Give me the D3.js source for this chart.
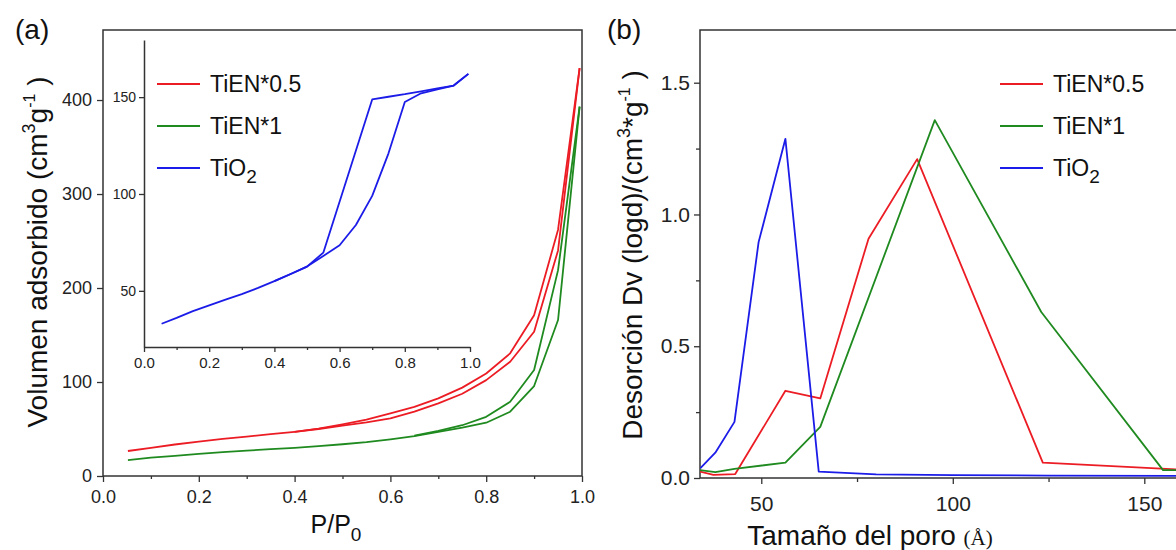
<!DOCTYPE html>
<html><head><meta charset="utf-8">
<script src="https://cdn.jsdelivr.net/npm/d3@7"></script>
<style>
body{margin:0;background:#fff;}
svg{display:block;font-family:"Liberation Sans",Arial,sans-serif;}
</style></head><body>
<svg id="chart" width="1176" height="550"></svg>
<script>
// ---------- Panel (a): N2 isotherms ----------
const aXTicks = [0.0, 0.2, 0.4, 0.6, 0.8, 1.0];
const aXMinor = [0.1, 0.3, 0.5, 0.7, 0.9];
const aYTicks = [0, 100, 200, 300, 400];

const ppAds = [0.052,0.1,0.15,0.2,0.25,0.3,0.35,0.4,0.45,0.5,0.55,0.6,0.65,0.7,0.75,0.8,0.85,0.9,0.95,0.995];
const tienHalfAds = [26.6,30,33.5,36.5,39.5,42,44.5,47,50,53.5,57,61.4,68.5,77.3,87.5,102,121.6,153.5,240,434];
const ppDesHalf = [0.995,0.95,0.9,0.85,0.8,0.75,0.7,0.65,0.6,0.55,0.5,0.45,0.4];
const tienHalfDes = [434,262,171,130.5,109,94,82.6,73.5,66.7,60,55,50.5,47];

const tienOneAds = [17,19.5,21.5,23.5,25.3,27,28.5,30,31.8,33.8,36,39,42.5,47,51.5,56.7,68.4,95.7,166,393];
const ppDesOne = [0.995,0.95,0.9,0.85,0.8,0.75,0.7,0.65];
const tienOneDes = [393,219,112.8,79,63,54,48,43];

// Inset: TiO2 isotherm
const insetXTicks = [0.0, 0.2, 0.4, 0.6, 0.8, 1.0];
const insetXMinor = [0.1, 0.3, 0.5, 0.7, 0.9];
const insetYTicks = [50, 100, 150];
const ppInsetAds = [0.054,0.1,0.15,0.2,0.25,0.3,0.35,0.4,0.45,0.5,0.55,0.6,0.65,0.7,0.75,0.8,0.85,0.9,0.95,0.995];
const tio2Ads = [33,36,39.5,42.5,45.5,48.3,51.5,55,58.7,62.5,68,73.5,84,99,121,147.5,152,154,156,162];
const ppInsetDes = [0.995,0.95,0.9,0.85,0.8,0.75,0.7,0.55,0.5,0.45,0.4];
const tio2Des = [162,156,154.5,153,151.5,150.2,148.8,69.7,62.5,58.7,55];

// ---------- Panel (b): pore size distribution ----------
const bXTicks = [50, 100, 150];
const bXMinor = [75, 125];
const bYTicks = [0.0, 0.5, 1.0, 1.5];
const bYMinor = [0.25, 0.75, 1.25];

const poreTiO2 = [34.1,38,43,49.3,56.3,65,80,100,125,160,175];
const dvTiO2 = [0.037,0.096,0.213,0.895,1.287,0.024,0.014,0.011,0.009,0.008,0.008];
const poreHalf = [34,37.5,43.2,56.3,65.4,78,90.7,123.5,158.3,175];
const dvHalf = [0.024,0.012,0.015,0.331,0.302,0.908,1.21,0.058,0.033,0.03];
const poreOne = [34,38,43,56.3,65.4,95.3,123.1,154.9,175];
const dvOne = [0.03,0.022,0.035,0.058,0.194,1.358,0.63,0.03,0.03];

const seriesNames = ["TiEN*0.5", "TiEN*1", "TiO"];
const colors = ["#ec1c24", "#1f8a1f", "#1c1ce8"];

// ---------------------------------------------------------
const svg = d3.select("#chart");
const axisColor = "#333";
const LW = 1.8;

function styleAxis(g, fs) {
  g.selectAll("path.domain").attr("stroke", axisColor).attr("stroke-width", 1.5);
  g.selectAll(".tick line").attr("stroke", axisColor).attr("stroke-width", 1.3);
  g.selectAll(".tick text").attr("fill", "#222").style("font-size", fs + "px")
    .style("font-family", '"Liberation Sans",Arial,sans-serif');
}

// ===== Panel (a) =====
const xA = d3.scaleLinear().domain([0, 1]).range([103, 582]);
const yA = d3.scaleLinear().domain([0, 474.5]).range([476, 30]);

const gA = svg.append("g");
gA.append("g").attr("transform", "translate(0,476)")
  .call(d3.axisBottom(xA).tickValues(aXTicks).tickSize(6).tickPadding(8).tickFormat(d3.format(".1f")).tickSizeOuter(0))
  .call(g => { g.select(".domain").remove(); styleAxis(g, 18); });
gA.append("g").attr("transform", "translate(0,476)")
  .call(d3.axisBottom(xA).tickValues(aXMinor).tickSize(3).tickFormat(""))
  .call(g => { g.select(".domain").remove(); styleAxis(g, 18); });
gA.append("g").attr("transform", "translate(103,0)")
  .call(d3.axisLeft(yA).tickValues(aYTicks).tickSize(6).tickPadding(5).tickSizeOuter(0))
  .call(g => { g.select(".domain").remove(); styleAxis(g, 18); });
gA.append("rect").attr("x", xA(0)).attr("y", yA(474.5)).attr("width", xA(1) - xA(0)).attr("height", yA(0) - yA(474.5))
  .attr("fill", "none").attr("stroke", axisColor).attr("stroke-width", 1.5);

const lineA = d3.line().x(d => xA(d[0])).y(d => yA(d[1]));
[[ppAds, tienHalfAds, 0], [ppDesHalf, tienHalfDes, 0], [ppAds, tienOneAds, 1], [ppDesOne, tienOneDes, 1]]
  .forEach(([xs, ys, c]) => {
    gA.append("path").datum(d3.zip(xs, ys)).attr("d", lineA)
      .attr("fill", "none").attr("stroke", colors[c]).attr("stroke-width", LW).attr("stroke-linejoin", "round");
  });

// Inset
const xI = d3.scaleLinear().domain([0, 1]).range([144, 470]);
const yI = d3.scaleLinear().domain([21, 179.5]).range([347, 40]);
gA.append("g").attr("transform", "translate(0,347)")
  .call(d3.axisBottom(xI).tickValues(insetXTicks).tickSize(5).tickPadding(5).tickFormat(d3.format(".1f")).tickSizeOuter(0))
  .call(g => styleAxis(g, 15));
gA.append("g").attr("transform", "translate(0,347)")
  .call(d3.axisBottom(xI).tickValues(insetXMinor).tickSize(3).tickFormat(""))
  .call(g => { g.select(".domain").remove(); styleAxis(g, 15); });
gA.append("g").attr("transform", "translate(144,0)")
  .call(d3.axisLeft(yI).tickValues(insetYTicks).tickSize(5).tickPadding(3).tickSizeOuter(0))
  .call(g => styleAxis(g, 14));
const lineI = d3.line().x(d => xI(d[0])).y(d => yI(d[1]));
[[ppInsetAds, tio2Ads], [ppInsetDes, tio2Des]].forEach(([xs, ys]) => {
  gA.append("path").datum(d3.zip(xs, ys)).attr("d", lineI)
    .attr("fill", "none").attr("stroke", colors[2]).attr("stroke-width", LW).attr("stroke-linejoin", "round");
});

function legend(g, x0, y0) {
  seriesNames.forEach((name, i) => {
    const y = y0 + i * 42;
    g.append("line").attr("x1", x0).attr("x2", x0 + 43).attr("y1", y).attr("y2", y)
      .attr("stroke", colors[i]).attr("stroke-width", LW);
    const t = g.append("text").attr("x", x0 + 53).attr("y", y + 8).style("font-size", "23px").attr("fill", "#111");
    t.append("tspan").text(name);
    if (i === 2) t.append("tspan").attr("dy", 7).style("font-size", "19px").text("2");
  });
}
legend(gA, 157, 84);

// axis titles (a)
svg.append("text").attr("x", 15).attr("y", 39).style("font-size", "28px").attr("fill", "#111").text("(a)");
const yTitleA = svg.append("text").attr("transform", "translate(47,252) rotate(-90)")
  .attr("text-anchor", "middle").style("font-size", "28px").attr("fill", "#111");
yTitleA.append("tspan").text("Volumen adsorbido (cm");
yTitleA.append("tspan").attr("dy", -12).style("font-size", "18px").text("3");
yTitleA.append("tspan").attr("dy", 12).text("g");
yTitleA.append("tspan").attr("dy", -12).style("font-size", "16px").text("-1");
yTitleA.append("tspan").attr("dy", 12).text(" )");
const xTitleA = svg.append("text").attr("x", 336).attr("y", 533).attr("text-anchor", "middle")
  .style("font-size", "25px").attr("fill", "#111");
xTitleA.append("tspan").text("P/P");
xTitleA.append("tspan").attr("dy", 8).style("font-size", "19px").text("0");

// ===== Panel (b) =====
const xB = d3.scaleLinear().domain([34, 170]).range([700, 1220.9]);
const yB = d3.scaleLinear().domain([0, 1.7]).range([478, 30]);
const gB = svg.append("g");
svg.append("clipPath").attr("id", "clipB").append("rect")
  .attr("x", 700).attr("y", 30).attr("width", 521).attr("height", 448);

gB.append("g").attr("transform", "translate(0,478)")
  .call(d3.axisBottom(xB).tickValues(bXTicks).tickSize(6).tickPadding(12).tickSizeOuter(0))
  .call(g => { g.select(".domain").remove(); styleAxis(g, 21); });
gB.append("g").attr("transform", "translate(0,478)")
  .call(d3.axisBottom(xB).tickValues(bXMinor).tickSize(4).tickFormat(""))
  .call(g => { g.select(".domain").remove(); styleAxis(g, 21); });
gB.append("g").attr("transform", "translate(700,0)")
  .call(d3.axisLeft(yB).tickValues(bYTicks).tickSize(6).tickPadding(4).tickFormat(d3.format(".1f")).tickSizeOuter(0))
  .call(g => { g.select(".domain").remove(); styleAxis(g, 21); });
gB.append("g").attr("transform", "translate(700,0)")
  .call(d3.axisLeft(yB).tickValues(bYMinor).tickSize(4).tickFormat(""))
  .call(g => { g.select(".domain").remove(); styleAxis(g, 21); });
gB.append("rect").attr("x", 700).attr("y", 30).attr("width", 521).attr("height", 448)
  .attr("fill", "none").attr("stroke", axisColor).attr("stroke-width", 1.5);

const lineB = d3.line().x(d => xB(d[0])).y(d => yB(d[1]));
[[poreHalf, dvHalf, 0], [poreOne, dvOne, 1], [poreTiO2, dvTiO2, 2]].forEach(([xs, ys, c]) => {
  gB.append("path").datum(d3.zip(xs, ys)).attr("d", lineB).attr("clip-path", "url(#clipB)")
    .attr("fill", "none").attr("stroke", colors[c]).attr("stroke-width", LW).attr("stroke-linejoin", "round");
});
legend(gB, 1000, 84);

svg.append("text").attr("x", 607).attr("y", 39).style("font-size", "28px").attr("fill", "#111").text("(b)");
const yTitleB = svg.append("text").attr("transform", "translate(642,255) rotate(-90)")
  .attr("text-anchor", "middle").style("font-size", "28px").attr("fill", "#111");
yTitleB.append("tspan").text("Desorción Dv (logd)/(cm");
yTitleB.append("tspan").attr("dy", -12).style("font-size", "18px").text("3");
yTitleB.append("tspan").attr("dy", 12).text("*g");
yTitleB.append("tspan").attr("dy", -12).style("font-size", "16px").text("-1");
yTitleB.append("tspan").attr("dy", 12).text(" )");
const xTitleB = svg.append("text").attr("x", 870).attr("y", 545).attr("text-anchor", "middle")
  .style("font-size", "28px").attr("fill", "#111");
xTitleB.append("tspan").text("Tamaño del poro ");
xTitleB.append("tspan").style("font-family", '"Liberation Serif","DejaVu Serif",serif').style("font-size", "21px").text("(Å)");
</script>
</body></html>
